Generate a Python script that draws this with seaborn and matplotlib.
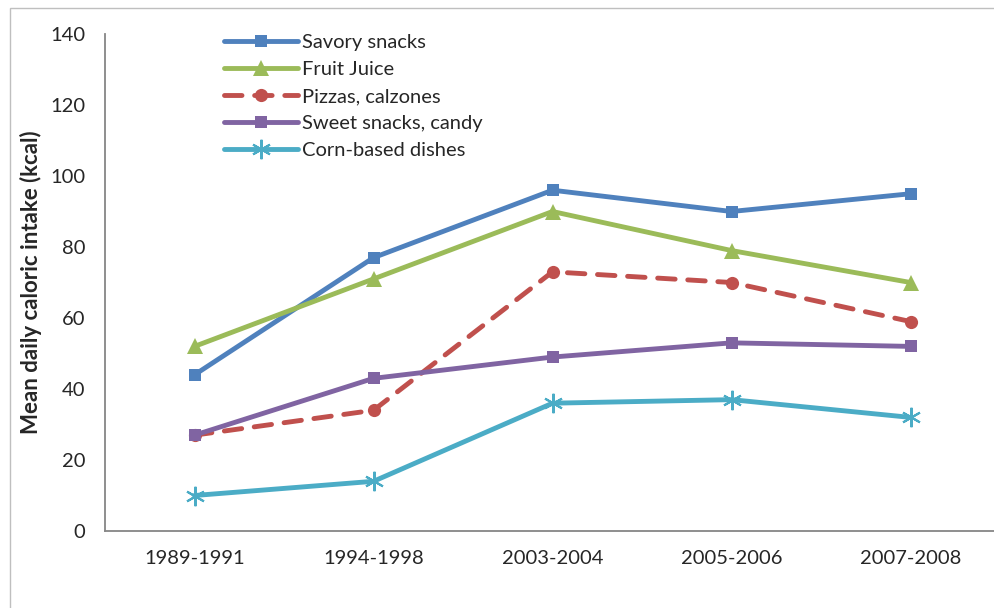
import seaborn as sns
import matplotlib.pyplot as plt
import pandas as pd
from matplotlib.patches import Rectangle

periods = ["1989-1991", "1994-1998", "2003-2004", "2005-2006", "2007-2008"]
savory = [44, 77, 96, 90, 95]
fruit_juice = [52, 71, 90, 79, 70]
pizzas = [27, 34, 73, 70, 59]
sweet = [27, 43, 49, 53, 52]
corn = [10, 14, 36, 37, 32]

series = [
    ("Savory snacks", savory, "#4F81BD", "s", 9, "-"),
    ("Fruit Juice", fruit_juice, "#9BBB59", "^", 12, "-"),
    ("Pizzas, calzones", pizzas, "#C0504D", "o", 9.5, (0, (3.6, 2.6))),
    ("Sweet snacks, candy", sweet, "#8064A2", "s", 9, "-"),
    ("Corn-based dishes", corn, "#4BACC6", (6, 2, 0), 14, "-"),
]

sns.set_style("white")
plt.rcParams["font.family"] = ["Lato", "DejaVu Sans"]

fig = plt.figure(figsize=(9.94, 6.08), dpi=100)
# light frame around the chart area
fig.patches.append(Rectangle((10 / 994, -0.1), 1.2, 1.1 - 8 / 608, transform=fig.transFigure,
                             fill=False, edgecolor="#BFBFBF", linewidth=1))
ax = fig.add_axes([105 / 994, 77 / 608, 895 / 994, 497 / 608])

for name, vals, color, marker, ms, ls in series:
    df = pd.DataFrame({"period": periods, "kcal": vals})
    sns.lineplot(data=df, x="period", y="kcal", ax=ax, color=color, linewidth=3.5,
                 linestyle=ls, marker=marker, markersize=ms,
                 markeredgewidth=1.5 if marker == (6, 2, 0) else 0,
                 markeredgecolor=color, label=name, sort=False,
                 dash_capstyle="round", solid_capstyle="round")

ax.set_xlim(-0.5, 4.5)
ax.set_ylim(0, 140)
ax.set_yticks(range(0, 141, 20))
ax.set_xticks(range(5))
ax.set_xticklabels(periods)
ax.set_xticks([i + 0.5 for i in range(-1, 5)], minor=True)
ax.tick_params(axis="x", which="major", length=0, pad=14, labelsize=14.5)
ax.tick_params(axis="x", which="minor", length=6, width=1.3, color="#868686", direction="out")
ax.tick_params(axis="y", length=6, width=1.3, color="#868686", direction="out", pad=8, labelsize=14.5)
ax.set_xlabel("")
ax.set_ylabel("Mean daily caloric intake (kcal)", fontsize=16, fontweight="bold", labelpad=6)

for side in ["top", "right"]:
    ax.spines[side].set_visible(False)
for side in ["left", "bottom"]:
    ax.spines[side].set_color("#868686")
    ax.spines[side].set_linewidth(1.3)

leg = ax.legend(loc="upper left", bbox_to_anchor=(0.1235, 1.017), frameon=False, fontsize=14.5,
                handlelength=3.7, handletextpad=0.2, labelspacing=0.5, borderaxespad=0)

fig.savefig("out.png", dpi=100)
